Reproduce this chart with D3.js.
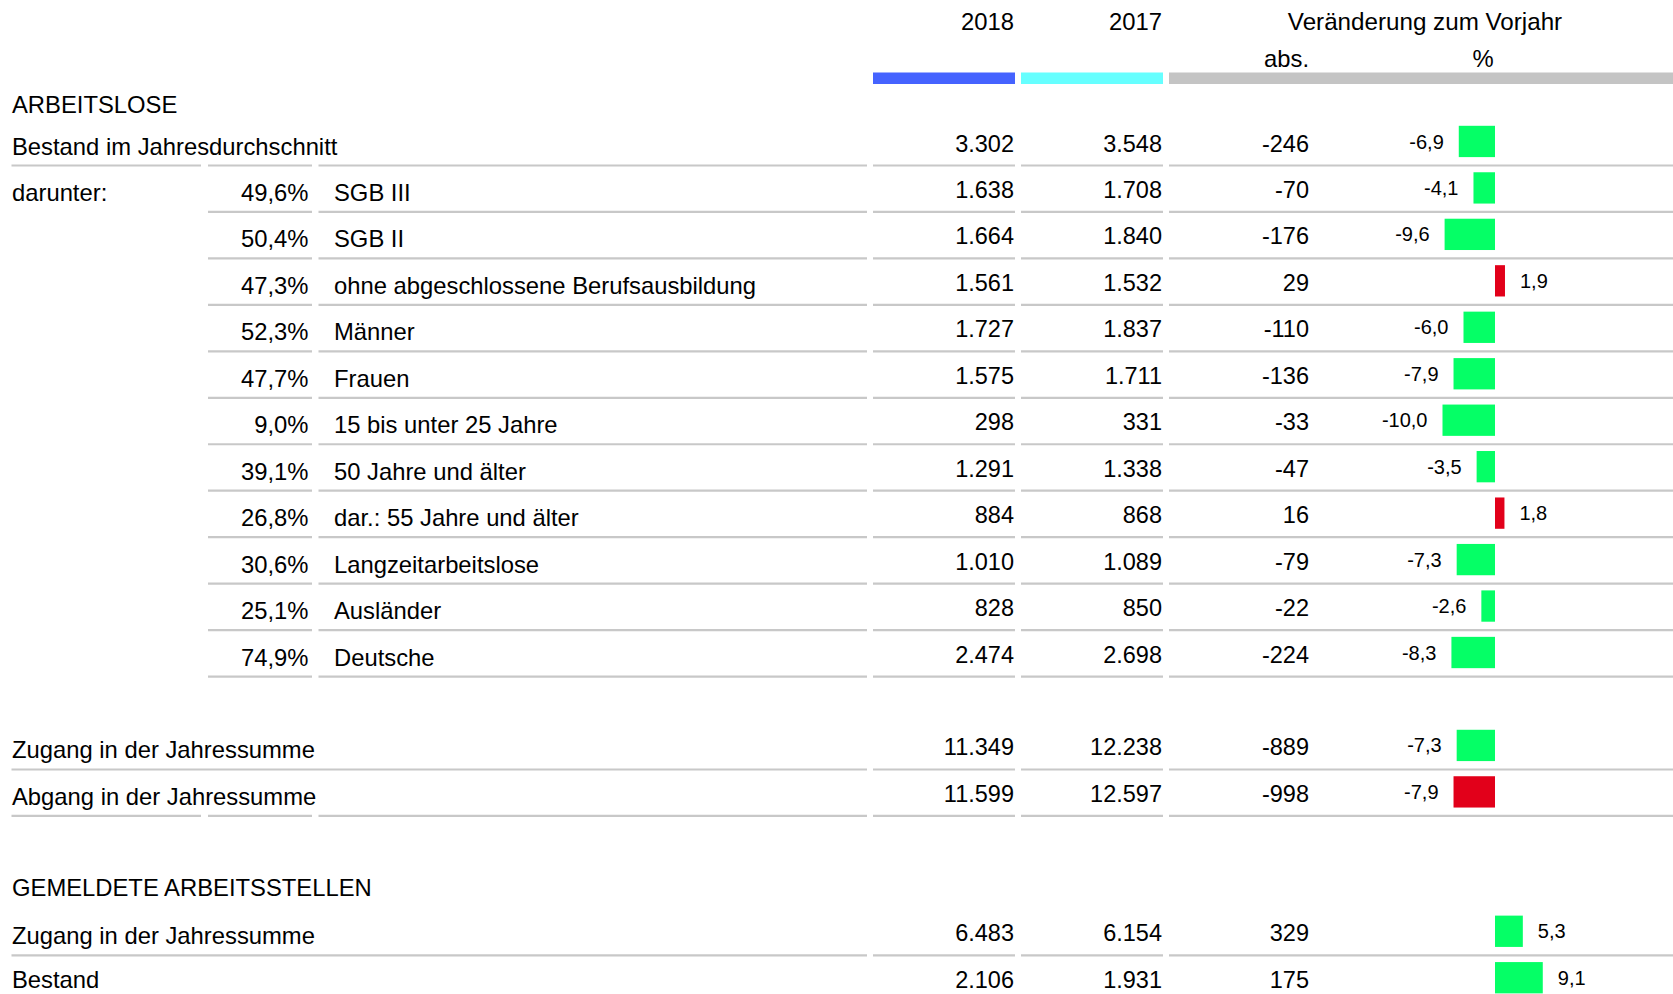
<!DOCTYPE html>
<html>
<head>
<meta charset="utf-8">
<script src="https://cdn.jsdelivr.net/npm/d3@7"></script>
<style>
  body { margin: 0; background: #fff; }
  text { font-family: "Liberation Sans", Arial, sans-serif; fill: #000; }
</style>
</head>
<body>
<div id="chart"></div>
<script>
// Zeilen: Index -> Position im Raster (leere Zeilen dazwischen)
const rowIndex = [0, 1, 2, 3, 4, 5, 6, 7, 8, 9, 10, 11, 13, 14, 17, 18];
const labels = [
    "Bestand im Jahresdurchschnitt", "SGB III", "SGB II", "ohne abgeschlossene Berufsausbildung",
    "Männer", "Frauen", "15 bis unter 25 Jahre", "50 Jahre und älter", "dar.: 55 Jahre und älter",
    "Langzeitarbeitslose", "Ausländer", "Deutsche",
    "Zugang in der Jahressumme", "Abgang in der Jahressumme",
    "Zugang in der Jahressumme", "Bestand"
];
const anteil = [null, 49.6, 50.4, 47.3, 52.3, 47.7, 9.0, 39.1, 26.8, 30.6, 25.1, 74.9, null, null, null, null];
const wert2018 = [3302, 1638, 1664, 1561, 1727, 1575, 298, 1291, 884, 1010, 828, 2474, 11349, 11599, 6483, 2106];
const wert2017 = [3548, 1708, 1840, 1532, 1837, 1711, 331, 1338, 868, 1089, 850, 2698, 12238, 12597, 6154, 1931];
const diffAbs = [-246, -70, -176, 29, -110, -136, -33, -47, 16, -79, -22, -224, -889, -998, 329, 175];
const diffPct = [-6.9, -4.1, -9.6, 1.9, -6.0, -7.9, -10.0, -3.5, 1.8, -7.3, -2.6, -8.3, -7.3, -7.9, 5.3, 9.1];
// positive Entwicklung (grün) oder negative (rot)
const positiv = [true, true, true, false, true, true, true, true, false, true, true, true, true, false, true, true];

const sections = [
    { label: "ARBEITSLOSE", index: -1 },
    { label: "GEMELDETE ARBEITSSTELLEN", index: 16 }
];
const headYears = ["2018", "2017"];

class Tabelle {
    constructor(config) {
        this.config = config;
        this.svg = d3.select(config.div).append("svg")
            .attr("width", config.width)
            .attr("height", config.height);
        this.loc = d3.formatLocale({ decimal: ",", thousands: ".", grouping: [3], currency: ["", " €"], minus: "-" });
        this.fmtInt = this.loc.format(",d");
        this.fmtPct = this.loc.format(".1f");
        this.y = d3.scaleLinear().domain([0, 1]).range([165.5, 165.5 + 46.46]);
        this.x = d3.scaleLinear().domain([-10, 10]).range([1442.5, 1547.5]);
        // Spalten: Beschriftung 1, Anteil, Bezeichnung, 2018, 2017, Veränderung
        this.cols = [[11.5, 201], [208, 312], [318.5, 867], [873, 1015], [1021, 1163], [1169, 1673]];
    }

    header() {
        const c = this.cols;
        const bars = [
            { x0: c[3][0], x1: c[3][1], color: "#4563ff" },
            { x0: c[4][0], x1: c[4][1], color: "#66ffff" },
            { x0: c[5][0], x1: c[5][1], color: "#c4c4c4" }
        ];
        this.svg.selectAll("rect.head").data(bars).enter().append("rect")
            .attr("class", "head")
            .attr("x", d => d.x0).attr("y", 72.5)
            .attr("width", d => d.x1 - d.x0).attr("height", 11.5)
            .attr("fill", d => d.color);

        this.svg.selectAll("text.year").data(headYears).enter().append("text")
            .attr("class", "year")
            .attr("x", (d, i) => c[3 + i][1] - 1)
            .attr("y", 30)
            .attr("text-anchor", "end")
            .style("font-size", "23.8px")
            .text(d => d);
        this.svg.append("text").attr("x", 1425).attr("y", 30).attr("text-anchor", "middle")
            .style("font-size", "24.2px").text("Veränderung zum Vorjahr");
        this.svg.append("text").attr("x", 1309).attr("y", 67).attr("text-anchor", "end")
            .style("font-size", "23.8px").text("abs.");
        this.svg.append("text").attr("x", 1483).attr("y", 67).attr("text-anchor", "middle")
            .style("font-size", "23.8px").text("%");

        this.svg.selectAll("text.section").data(sections).enter().append("text")
            .attr("class", "section")
            .attr("x", 12)
            .attr("y", d => this.y(d.index) - (d.index < 0 ? 6 : 13))
            .style("font-size", "23.8px")
            .text(d => d.label);
    }

    render() {
        const data = rowIndex.map((r, i) => ({
            r, label: labels[i], anteil: anteil[i], a: wert2018[i], b: wert2017[i],
            abs: diffAbs[i], pct: diffPct[i], pos: positiv[i]
        }));
        const c = this.cols;

        // Trennlinien
        const segs = [];
        data.forEach(d => {
            let list;
            if (d.r >= 1 && d.r <= 11) list = [c[1], c[2], c[3], c[4], c[5]];
            else if (d.r === 13 || d.r === 17) list = [[c[0][0], c[2][1]], c[3], c[4], c[5]];
            else list = c;
            list.forEach(s => segs.push({ r: d.r, x0: s[0], x1: s[1] }));
        });
        this.svg.selectAll("line.sep").data(segs).enter().append("line")
            .attr("class", "sep")
            .attr("x1", d => d.x0).attr("x2", d => d.x1)
            .attr("y1", d => this.y(d.r)).attr("y2", d => this.y(d.r))
            .attr("stroke", "#c8c8c8").attr("stroke-width", 2.2);

        const rows = this.svg.selectAll("g.row").data(data).enter().append("g")
            .attr("class", "row")
            .attr("transform", d => `translate(0,${this.y(d.r)})`);

        // letzte Zeile sitzt am unteren Rand, etwas anheben
        const labelY = d => d.r === 18 ? -14 : -11;

        rows.append("text")
            .attr("x", d => d.r >= 1 && d.r <= 11 ? 334 : 12)
            .attr("y", labelY)
            .style("font-size", "23.8px")
            .text(d => d.label);

        rows.filter(d => d.anteil !== null).append("text")
            .attr("x", 308.5).attr("y", -11)
            .attr("text-anchor", "end")
            .style("font-size", "23.8px")
            .text(d => this.fmtPct(d.anteil) + "%");

        rows.filter(d => d.r === 1).append("text")
            .attr("x", 12).attr("y", -11)
            .style("font-size", "23.8px")
            .text("darunter:");

        const nums = [["a", c[3][1] - 1], ["b", c[4][1] - 1], ["abs", 1309]];
        nums.forEach(([k, xr]) => {
            rows.append("text")
                .attr("x", xr).attr("y", -14)
                .attr("text-anchor", "end")
                .style("font-size", "23.5px")
                .text(d => this.fmtInt(d[k]));
        });

        rows.append("rect")
            .attr("x", d => this.x(Math.min(0, d.pct)))
            .attr("y", -39.7)
            .attr("width", d => Math.abs(this.x(d.pct) - this.x(0)))
            .attr("height", 31.3)
            .attr("fill", d => d.pos ? "#05ff66" : "#e2001a");

        rows.append("text")
            .attr("x", d => d.pct < 0 ? this.x(d.pct) - 15 : this.x(d.pct) + 15)
            .attr("y", -17)
            .attr("text-anchor", d => d.pct < 0 ? "end" : "start")
            .style("font-size", "20px")
            .text(d => this.fmtPct(d.pct));
    }
}

const t = new Tabelle({ div: "#chart", width: 1673, height: 994 });
t.header();
t.render();
</script>
</body>
</html>
